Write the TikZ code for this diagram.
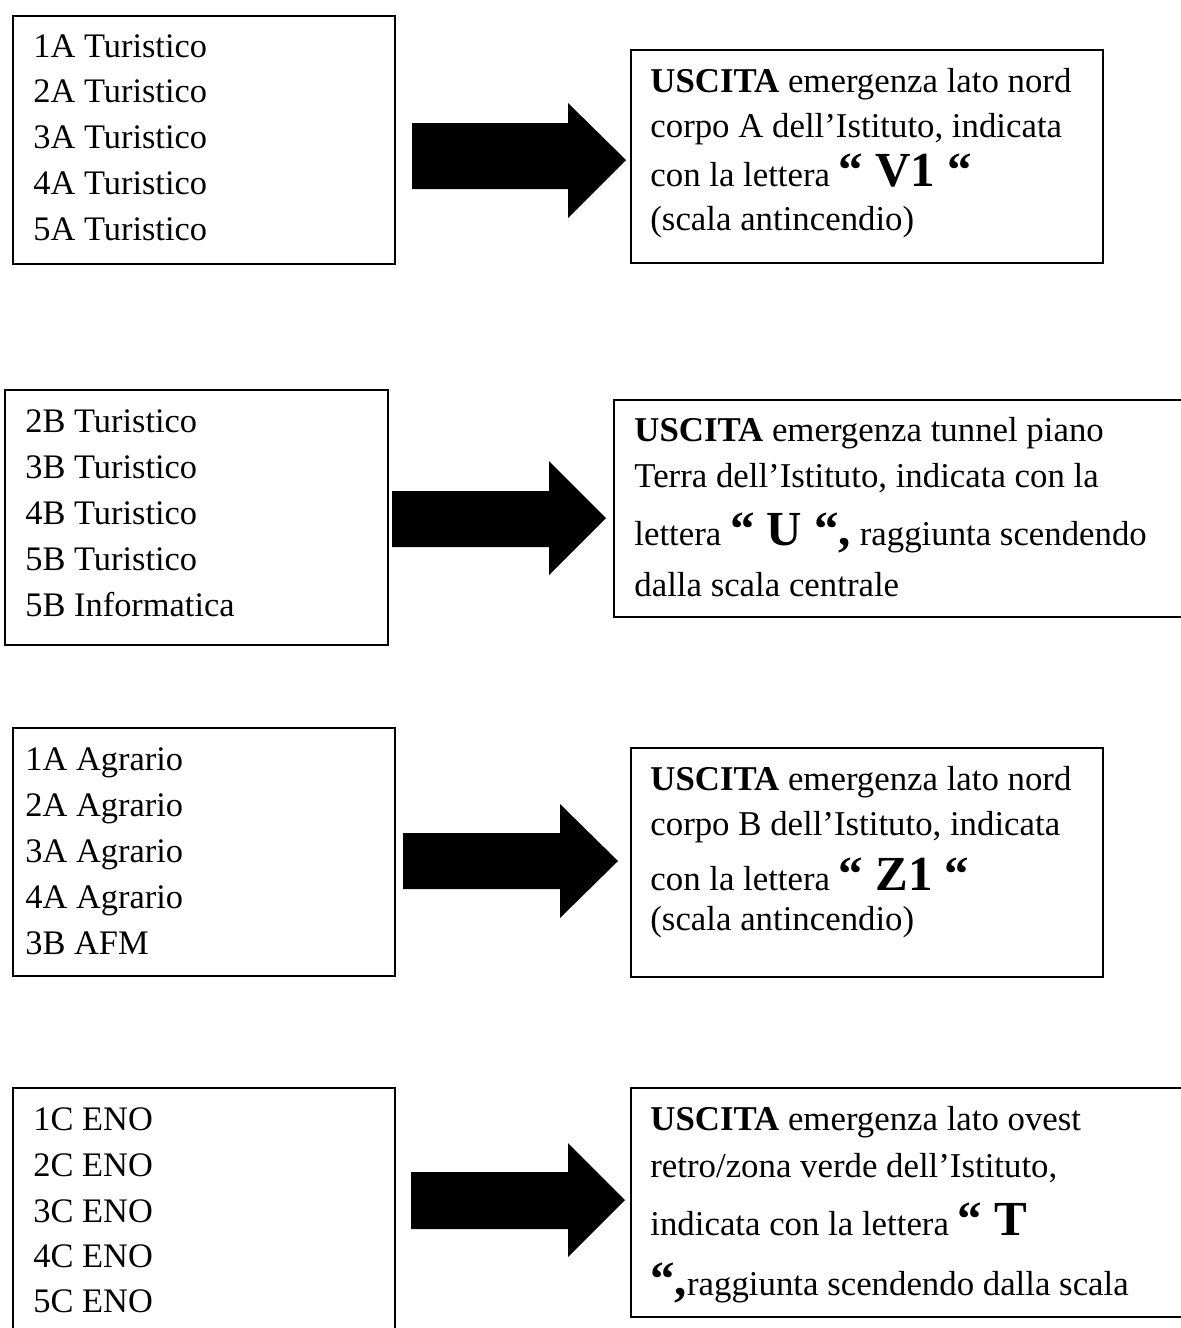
\documentclass[tikz,border=0pt]{standalone}
\usepackage{fontspec}
\setmainfont{Liberation Serif}
\newcommand\bigq[1]{{\fontsize{24.5}{26}\selectfont\bfseries #1}}
\begin{document}
\begin{tikzpicture}[x=0.5pt,y=-0.5pt,
  box/.style={draw, line width=0.9pt, anchor=north west, inner sep=0pt, fill=none},
  txt/.style={anchor=base west, inner sep=0pt, font=\fontsize{17.2}{20}\selectfont},
  rtxt/.style={anchor=base west, inner sep=0pt, font=\fontsize{17.4}{20}\selectfont},
  bigarrow/.style={fill=black}]
\useasboundingbox[fill=white] (0,0) rectangle (1181,1328);

% ---------- row 1 ----------
\node[box, minimum width=191pt, minimum height=124pt] (L1) at (12,15) {};
\node[txt] (L1a) at (33,57)  {1A Turistico};
\node[txt] (L1b) at (33,102) {2A Turistico};
\node[txt] (L1c) at (33,148) {3A Turistico};
\node[txt] (L1d) at (33,194) {4A Turistico};
\node[txt] (L1e) at (33,240) {5A Turistico};

\node[box, minimum width=236pt, minimum height=106.5pt] (R1) at (630,49) {};
\node[rtxt] (R1a) at (650,92)  {\textbf{USCITA} emergenza lato nord};
\node[rtxt] (R1b) at (650,137) {corpo A dell’Istituto, indicata};
\node[rtxt] (R1c) at (650,186) {con la lettera \bigq{“ V1 “}};
\node[rtxt] (R1d) at (650,230) {(scala antincendio)};

\fill[bigarrow] (412,123) -- (568,123) -- (568,103) -- (626,160) -- (568,218) -- (568,189) -- (412,189) -- cycle;

% ---------- row 2 ----------
\node[box, minimum width=191.5pt, minimum height=127.5pt] (L2) at (4,389) {};
\node[txt] (L2a) at (25,432) {2B Turistico};
\node[txt] (L2b) at (25,478) {3B Turistico};
\node[txt] (L2c) at (25,524) {4B Turistico};
\node[txt] (L2d) at (25,570) {5B Turistico};
\node[txt] (L2e) at (25,616) {5B Informatica};

\node[box, minimum width=300pt, minimum height=108.5pt] (R2) at (613,399) {};
\node[rtxt] (R2a) at (634,441) {\textbf{USCITA} emergenza tunnel piano};
\node[rtxt] (R2b) at (634,487) {Terra dell’Istituto, indicata con la};
\node[rtxt] (R2c) at (634,545) {lettera \bigq{“ U “,} raggiunta scendendo};
\node[rtxt] (R2d) at (634,596) {dalla scala centrale};

\fill[bigarrow] (392,491) -- (549,491) -- (549,461) -- (606,518) -- (549,575) -- (549,547) -- (392,547) -- cycle;

% ---------- row 3 ----------
\node[box, minimum width=191pt, minimum height=124pt] (L3) at (12,727) {};
\node[txt] (L3a) at (25,770) {1A Agrario};
\node[txt] (L3b) at (25,816) {2A Agrario};
\node[txt] (L3c) at (25,862) {3A Agrario};
\node[txt] (L3d) at (25,908) {4A Agrario};
\node[txt] (L3e) at (25,954) {3B AFM};

\node[box, minimum width=236pt, minimum height=114.5pt] (R3) at (630,747) {};
\node[rtxt] (R3a) at (650,790) {\textbf{USCITA} emergenza lato nord};
\node[rtxt] (R3b) at (650,835) {corpo B dell’Istituto, indicata};
\node[rtxt] (R3c) at (650,890) {con la lettera \bigq{“ Z1 “}};
\node[rtxt] (R3d) at (650,930) {(scala antincendio)};

\fill[bigarrow] (403,833) -- (560,833) -- (560,804) -- (618,861) -- (560,918) -- (560,889) -- (403,889) -- cycle;

% ---------- row 4 ----------
\node[box, minimum width=191pt, minimum height=130pt] (L4) at (12,1087) {};
\node[txt] (L4a) at (33,1130) {1C ENO};
\node[txt] (L4b) at (33,1176) {2C ENO};
\node[txt] (L4c) at (33,1222) {3C ENO};
\node[txt] (L4d) at (33,1267) {4C ENO};
\node[txt] (L4e) at (33,1312) {5C ENO};

\node[box, minimum width=300pt, minimum height=114.5pt] (R4) at (630,1087) {};
\node[rtxt] (R4a) at (650,1130) {\textbf{USCITA} emergenza lato ovest};
\node[rtxt] (R4b) at (650,1177) {retro/zona verde dell’Istituto,};
\node[rtxt] (R4c) at (650,1235) {indicata con la lettera \bigq{“ T}};
\node[rtxt] (R4d) at (650,1295) {\bigq{“,}raggiunta scendendo dalla scala};

\fill[bigarrow] (411,1172) -- (568,1172) -- (568,1143) -- (625,1200) -- (568,1257) -- (568,1229) -- (411,1229) -- cycle;
\end{tikzpicture}
\end{document}
